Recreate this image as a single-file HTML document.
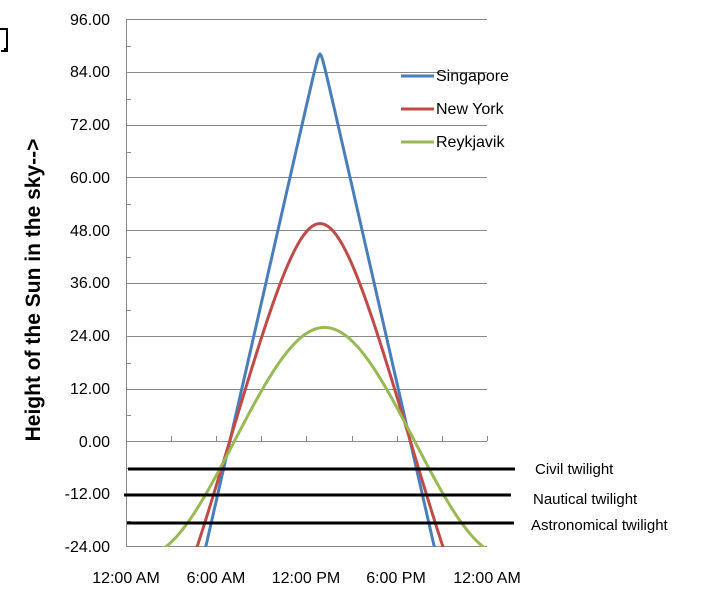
<!DOCTYPE html>
<html><head><meta charset="utf-8"><style>
html,body{margin:0;padding:0;background:#fff;width:709px;height:605px;overflow:hidden;}
svg{display:block;font-family:"Liberation Sans",Calibri,sans-serif;}
</style></head><body>
<svg id="s" width="709" height="605" viewBox="0 0 709 605" xmlns="http://www.w3.org/2000/svg">
<rect width="709" height="605" fill="#fff"/>
<path d="M0 29 H7 V51 H1" fill="none" stroke="#000" stroke-width="2"/>
<rect x="4" y="48" width="4" height="4" fill="#000"/>
<g stroke="#888" stroke-width="1">
<line x1="126" y1="19.5" x2="487" y2="19.5"/>
<line x1="126" y1="72.5" x2="487" y2="72.5"/>
<line x1="126" y1="125.5" x2="487" y2="125.5"/>
<line x1="126" y1="177.5" x2="487" y2="177.5"/>
<line x1="126" y1="230.5" x2="487" y2="230.5"/>
<line x1="126" y1="283.5" x2="487" y2="283.5"/>
<line x1="126" y1="336.5" x2="487" y2="336.5"/>
<line x1="126" y1="389.5" x2="487" y2="389.5"/>
<line x1="126" y1="441.5" x2="487" y2="441.5"/>
<line x1="126" y1="546.5" x2="487" y2="546.5"/>
<line x1="126.5" y1="19" x2="126.5" y2="547"/>
<g id="mt"></g>
</g>
<g font-size="16" fill="#000" text-anchor="end">
<text x="110" y="25">96.00</text><text x="110" y="77">84.00</text><text x="110" y="130">72.00</text>
<text x="110" y="183">60.00</text><text x="110" y="236">48.00</text><text x="110" y="288">36.00</text>
<text x="110" y="341">24.00</text><text x="110" y="394">12.00</text><text x="110" y="447">0.00</text>
<text x="110" y="499">-12.00</text><text x="110" y="552">-24.00</text>
</g>
<g font-size="16" fill="#000" text-anchor="middle">
<text x="126" y="583">12:00 AM</text><text x="216" y="583">6:00 AM</text><text x="306" y="583">12:00 PM</text>
<text x="396" y="583">6:00 PM</text><text x="487" y="583">12:00 AM</text>
</g>
<text transform="translate(40,290) rotate(-90)" font-size="21" font-weight="bold" text-anchor="middle">Height of the Sun in the sky--&gt;</text>
<clipPath id="c"><rect x="126" y="19" width="362" height="528"/></clipPath>
<g id="curves" clip-path="url(#c)" fill="none" stroke-width="3"></g>
<g stroke="#000" stroke-width="3">
<line x1="128" y1="469" x2="515" y2="469"/>
<line x1="124" y1="495" x2="511" y2="495"/>
<line x1="127" y1="523" x2="514" y2="523"/>
</g>
<g font-size="15" fill="#000">
<text x="535" y="474">Civil twilight</text>
<text x="533" y="504">Nautical twilight</text>
<text x="531" y="530">Astronomical twilight</text>
</g>
<g stroke-width="3">
<line x1="401" y1="76" x2="434" y2="76" stroke="#4a7ebb"/>
<line x1="401" y1="109" x2="434" y2="109" stroke="#be4b48"/>
<line x1="401" y1="142" x2="434" y2="142" stroke="#98b954"/>
</g>
<g font-size="16" fill="#000">
<text x="436" y="81">Singapore</text><text x="436" y="114">New York</text><text x="436" y="147">Reykjavik</text>
</g>
</svg>
<script>
var ns="http://www.w3.org/2000/svg";
var mt=document.getElementById("mt");
function ln(g,a,b,c,d){var l=document.createElementNS(ns,"line");l.setAttribute("x1",a);l.setAttribute("y1",b);l.setAttribute("x2",c);l.setAttribute("y2",d);g.appendChild(l);}
for(var i=0;i<10;i++){var y=Math.round(45.9+i*52.8)+0.5;ln(mt,126,y,131,y);}
for(var i=1;i<=8;i++){var x=Math.round(126+i*45.12)+0.5;ln(mt,x,436,x,441);}
var cg=document.getElementById("curves");
function curve(phi,dec,noon,col){
 var r=Math.PI/180,d="";
 for(var x=126;x<=487;x+=1){var h=(x-126)/15.04;var H=(h-noon)*15*r;
  var s=Math.sin(phi*r)*Math.sin(dec*r)+Math.cos(phi*r)*Math.cos(dec*r)*Math.cos(H);
  var a=Math.asin(s)/r;var y=441.4-a*4.4;d+=(d?"L":"M")+x+" "+y.toFixed(1);}
 var p=document.createElementNS(ns,"path");p.setAttribute("d",d);p.setAttribute("stroke",col);cg.appendChild(p);}
curve(1.3,-0.7,12.9,"#4a7ebb");
curve(40.7,0.2,12.9,"#be4b48");
curve(64.1,0,13.2,"#98b954");
</script>
</body></html>
